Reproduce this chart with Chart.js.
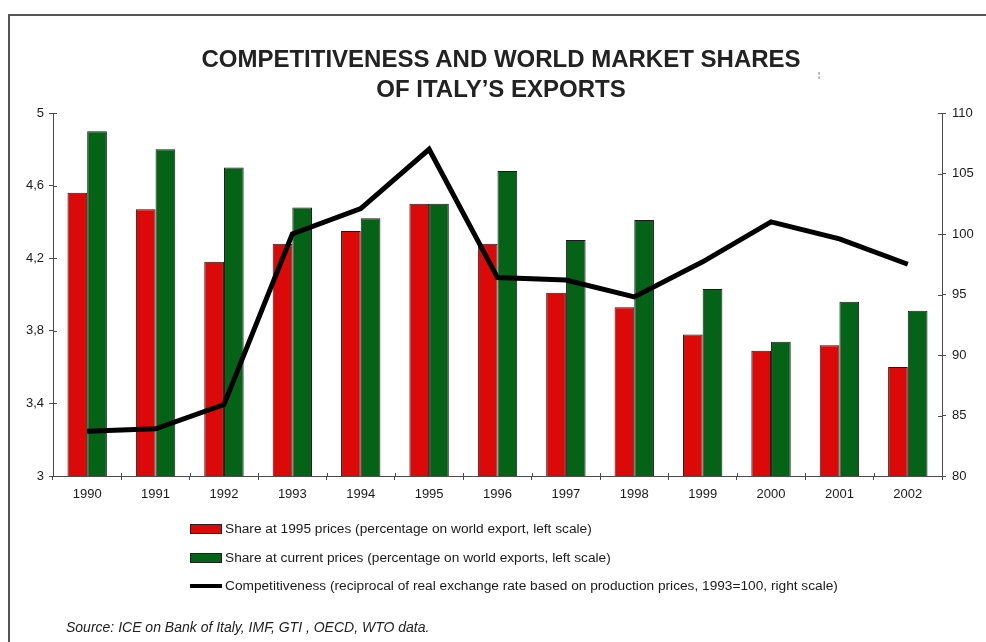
<!DOCTYPE html>
<html>
<head>
<meta charset="utf-8">
<title>Competitiveness and world market shares of Italy's exports</title>
<script src="https://cdn.jsdelivr.net/npm/chart.js@4.4.1/dist/chart.umd.min.js"></script>
<style>
	html, body { margin: 0; padding: 0; background: #fff; }
	body { width: 986px; height: 642px; position: relative; overflow: hidden; font-family: "Liberation Sans", Arial, sans-serif; color: #1a1a1a; }
	.frame { position: absolute; left: 8px; top: 14px; width: 1100px; height: 800px; border-left: 2px solid #555; border-top: 2px solid #555; }
	#chartWrap { position: absolute; left: 0; top: 0; width: 986px; height: 642px; }
	.title { position: absolute; left: 0; top: 44px; width: 1002px; text-align: center; font-weight: bold; font-size: 24px; line-height: 30px; color: #222; }
	.stray { position: absolute; left: 818px; top: 70px; font-size: 8px; color: #333; }
	.legend { position: absolute; left: 190px; top: 515px; margin: 0; padding: 0; list-style: none; font-size: 13.7px; }
	.legend li { height: 28.5px; line-height: 28.5px; white-space: nowrap; }
	.legend .sw { display: inline-block; width: 32px; vertical-align: middle; margin-right: 3px; box-sizing: border-box; }
	.legend .box { height: 10px; border: 1px solid #222; }
	.legend .ln { height: 4px; background: #000; }
	.source { position: absolute; left: 66px; top: 619px; font-size: 14px; font-style: italic; color: #222; }
</style>
</head>
<body>
<div class="frame"></div>
<div id="chartWrap"><canvas id="shareChart" width="986" height="642"></canvas></div>
<div class="title">COMPETITIVENESS AND WORLD MARKET SHARES<br>OF ITALY’S EXPORTS</div>
<div class="stray">¦</div>
<ul class="legend" id="shareLegend"></ul>
<div class="source">Source: ICE on Bank of Italy, IMF, GTI , OECD, WTO data.</div>
<script>
// years on the category axis
var years = ["1990", "1991", "1992", "1993", "1994", "1995", "1996", "1997", "1998", "1999", "2000", "2001", "2002"];

// share of world exports, % (left scale)
var shareConstPrices = [4.56, 4.47, 4.18, 4.28, 4.35, 4.50, 4.28, 4.01, 3.93, 3.78, 3.69, 3.72, 3.60];
var shareCurrentPrices = [4.90, 4.80, 4.70, 4.48, 4.42, 4.50, 4.68, 4.30, 4.41, 4.03, 3.74, 3.96, 3.91];

// competitiveness index, 1993=100 (right scale)
var competitiveness = [83.7, 83.9, 85.9, 100.0, 102.1, 107.0, 96.4, 96.2, 94.8, 97.7, 101.0, 99.6, 97.5];

// axis tick labels
var leftTickLabels = ["3", "3,4", "3,8", "4,2", "4,6", "5"];
var rightTickLabels = ["80", "85", "90", "95", "100", "105", "110"];

var seriesNames = [
	"Share at 1995 prices (percentage on world export, left scale)",
	"Share at current prices (percentage on world exports, left scale)",
	"Competitiveness (reciprocal of real exchange rate based on production prices, 1993=100, right scale)"
];

var AXIS_COLOR = "#4a4a4a";
var TEXT_COLOR = "#1a1a1a";

// short tick marks on the inside of each axis (Chart.js only draws them outside)
var innerTicks = {
	id: "innerTicks",
	afterDraw: function(chart){
		var ctx = chart.ctx;
		var area = chart.chartArea;
		var yL = chart.scales.yL, yR = chart.scales.yR, x = chart.scales.x;
		var i, p;

		ctx.save();
		ctx.strokeStyle = AXIS_COLOR;
		ctx.lineWidth = 1;
		ctx.beginPath();
		for(i = 0; i < yL.ticks.length; i++){
			p = Math.round(yL.getPixelForValue(yL.ticks[i].value)) + 0.5;
			ctx.moveTo(area.left, p);
			ctx.lineTo(area.left + 4, p);
		}
		for(i = 0; i < yR.ticks.length; i++){
			p = Math.round(yR.getPixelForValue(yR.ticks[i].value)) + 0.5;
			ctx.moveTo(area.right - 4, p);
			ctx.lineTo(area.right, p);
		}
		for(i = 1; i < x.ticks.length; i++){
			p = Math.round((x.getPixelForTick(i - 1) + x.getPixelForTick(i)) / 2) + 0.5;
			ctx.moveTo(p, area.bottom - 3);
			ctx.lineTo(p, area.bottom);
		}
		ctx.stroke();
		ctx.restore();
	}
};

var shareChart = {
	chart: null,
	init: function(){
		Chart.defaults.font.family = "'Liberation Sans', Arial, sans-serif";
		Chart.defaults.color = TEXT_COLOR;

		shareChart.chart = new Chart(document.getElementById("shareChart"), {
			type: "bar",
			data: {
				labels: years,
				datasets: shareChart.getDatasets()
			},
			options: shareChart.getOptions(),
			plugins: [innerTicks]
		});
		shareChart.setLegend();
	},
	getDatasets: function(){
		return [
			{
				type: "line", label: seriesNames[2], data: competitiveness, yAxisID: "yR", order: 0,
				borderColor: "#000", borderWidth: 5, pointRadius: 0, tension: 0,
				borderJoinStyle: "miter", borderCapStyle: "butt", fill: false
			},
			{
				label: seriesNames[0], data: shareConstPrices, yAxisID: "yL", order: 1,
				backgroundColor: "#dc0909", borderColor: "#1a1a1a", borderWidth: 1,
				categoryPercentage: 0.576, barPercentage: 1
			},
			{
				label: seriesNames[1], data: shareCurrentPrices, yAxisID: "yL", order: 1,
				backgroundColor: "#046316", borderColor: "#1a1a1a", borderWidth: 1,
				categoryPercentage: 0.576, barPercentage: 1
			}
		];
	},
	getOptions: function(){
		return {
			responsive: false,
			animation: false,
			layout: { padding: { top: 113, bottom: 136, left: 0, right: 0 } },
			plugins: { legend: { display: false }, title: { display: false }, tooltip: { enabled: false } },
			scales: {
				x: {
					afterFit: function(s){ s.height = 30; },
					grid: { drawOnChartArea: false, tickLength: 4, color: AXIS_COLOR, offset: true },
					border: { color: AXIS_COLOR, width: 1 },
					ticks: { font: { size: 13 }, padding: 7, maxRotation: 0 }
				},
				yL: {
					position: "left", min: 3, max: 5,
					afterFit: function(s){ s.width = 53; },
					afterBuildTicks: function(s){
						s.ticks = leftTickLabels.map(function(t){ return { value: parseFloat(t.replace(",", ".")) }; });
					},
					grid: { drawOnChartArea: false, tickLength: 4, color: AXIS_COLOR },
					border: { color: AXIS_COLOR, width: 1 },
					ticks: {
						font: { size: 13 }, padding: 5,
						callback: function(v, i){ return leftTickLabels[i]; }
					}
				},
				yR: {
					position: "right", min: 80, max: 110,
					afterFit: function(s){ s.width = 44; },
					afterBuildTicks: function(s){
						s.ticks = rightTickLabels.map(function(t){ return { value: parseFloat(t) }; });
					},
					grid: { drawOnChartArea: false, tickLength: 4, color: AXIS_COLOR },
					border: { color: AXIS_COLOR, width: 1 },
					ticks: {
						font: { size: 13 }, padding: 6,
						callback: function(v, i){ return rightTickLabels[i]; }
					}
				}
			}
		};
	},
	setLegend: function(){
		var ds = shareChart.chart.data.datasets;
		var rows = [ds[1], ds[2], ds[0]];
		var ul = document.getElementById("shareLegend");

		rows.forEach(function(d){
			var li = document.createElement("li");
			var sw = document.createElement("span");
			if(d.type == "line"){
				sw.className = "sw ln";
			}else{
				sw.className = "sw box";
				sw.style.background = d.backgroundColor;
			}
			li.appendChild(sw);
			li.appendChild(document.createTextNode(d.label));
			ul.appendChild(li);
		});
	}
};

shareChart.init();
</script>
</body>
</html>
